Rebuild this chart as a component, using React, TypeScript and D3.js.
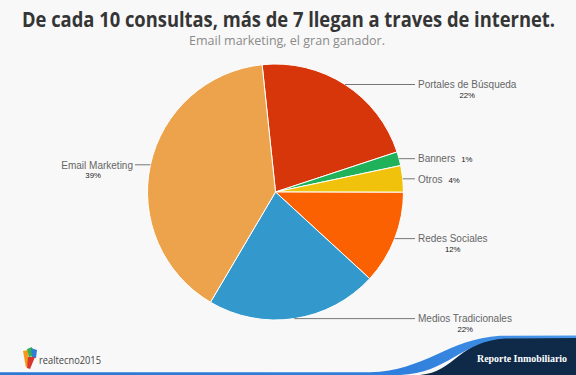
import React from "react";
import * as d3 from "d3";

const categories = ["Portales de Búsqueda", "Banners", "Otros", "Redes Sociales", "Medios Tradicionales", "Email Marketing"];
const values = [21.6, 1.75, 3.35, 11.8, 21.65, 39.85];
const pctLabels = ["22%", "1%", "4%", "12%", "22%", "39%"];
const colors = ["#d7360b", "#1fb25a", "#f0c20c", "#fb6100", "#3399cc", "#eda34b"];

const title = "De cada 10 consultas, más de 7 llegan a traves de internet.";
const subtitle = "Email marketing, el gran ganador.";
const logoText = "realtecno2015";
const brandText = "Reporte Inmobiliario";

const W = 576;
const H = 375;
const cx = 275.5;
const cy = 192;
const R = 128;
const startDeg = -6;

export default function App() {
  const start = (startDeg * Math.PI) / 180;
  const pie = d3
    .pie<number>()
    .sort(null)
    .value((d) => d)
    .startAngle(start)
    .endAngle(start + 2 * Math.PI);
  const arcs = pie(values);
  const arcGen = d3.arc<d3.PieArcDatum<number>>().innerRadius(0).outerRadius(R);

  const pts = arcs.map((a) => {
    const m = (a.startAngle + a.endAngle) / 2;
    return { x: cx + R * Math.sin(m), y: cy - R * Math.cos(m), right: Math.sin(m) > 0 };
  });

  const inline = pts.map((p, i) => {
    let minD = Infinity;
    pts.forEach((q, j) => {
      if (j !== i && q.right === p.right) minD = Math.min(minD, Math.abs(q.y - p.y));
    });
    return minD < 30;
  });

  const fontSans = "'Liberation Sans', Arial, sans-serif";

  return (
    <svg
      width={W}
      height={H}
      style={{ position: "absolute", left: 0, top: 0, display: "block" }}
    >
      <defs>
        <linearGradient id="bandGrad" x1="0" x2="1" y1="0" y2="0">
          <stop offset="0" stopColor="#2c78d2" />
          <stop offset="0.7" stopColor="#2f7fdc" />
          <stop offset="1" stopColor="#4a98ea" />
        </linearGradient>
      </defs>
      <rect x={0} y={0} width={W} height={H} fill="#f8f8f8" />

      <text
        x={288.5}
        y={27}
        textAnchor="middle"
        fontFamily="'Open Sans', sans-serif"
        fontWeight={700}
        fontSize={20.5}
        fill="#353535"
        textLength={533}
        lengthAdjust="spacingAndGlyphs"
      >
        {title}
      </text>
      <text
        x={287}
        y={44.5}
        textAnchor="middle"
        fontFamily="'Open Sans', sans-serif"
        fontSize={12.3}
        fill="#8a8a8a"
        textLength={196}
        lengthAdjust="spacingAndGlyphs"
      >
        {subtitle}
      </text>

      <g>
        {arcs.map((a, i) => (
          <path
            key={categories[i]}
            d={arcGen(a) || ""}
            transform={`translate(${cx},${cy})`}
            fill={colors[i]}
            stroke="#ffffff"
            strokeWidth={1}
          />
        ))}
      </g>

      <g>
        {pts.map((p, i) => {
          const xEnd = p.right ? 415 : 135;
          const tx = p.right ? 418 : 133;
          const anchor = p.right ? "start" : "end";
          const name = categories[i];
          return (
            <g key={name}>
              <line x1={p.x} y1={p.y} x2={xEnd} y2={p.y} stroke="#777" strokeWidth={1} />
              <text
                x={tx}
                y={p.y + 3.8}
                textAnchor={anchor}
                fontFamily={fontSans}
                fontSize={10}
                fill="#666"
              >
                {name}
              </text>
              {inline[i] ? (
                <text
                  x={tx + measure(name) + 6}
                  y={p.y + 3.8}
                  fontFamily={fontSans}
                  fontSize={7.8}
                  fill="#222"
                >
                  {pctLabels[i]}
                </text>
              ) : (
                <text
                  x={p.right ? tx + measure(name) / 2 : tx - measure(name) / 2 - 4}
                  y={p.y + 13.5}
                  textAnchor="middle"
                  fontFamily={fontSans}
                  fontSize={7.8}
                  fill="#222"
                >
                  {pctLabels[i]}
                </text>
              )}
            </g>
          );
        })}
      </g>

      {/* bottom decoration */}
      <path d="M420,375 C455,372 460,340 505,337.5 L576,337.5 L576,375 Z" fill="#0e2a48" />
      <path
        d="M0,372.3 L370,372.3 C425,371 448,339 500,335.8 L576,335.5 L576,338 L505,338.6 C462,341 448,373.5 400,375 L0,375 Z"
        fill="url(#bandGrad)"
      />
      <text
        x={522}
        y={361.5}
        textAnchor="middle"
        fontFamily="'Liberation Serif', 'DejaVu Serif', serif"
        fontWeight={700}
        fontSize={10}
        fill="#ffffff"
        textLength={90}
        lengthAdjust="spacingAndGlyphs"
      >
        {brandText}
      </text>

      {/* logo */}
      <g>
        <path d="M23,351 L28,350 L29,362 L26,368 Z" fill="#f39a1e" />
        <path d="M27,349 L32,347 L33,356 L29,357 Z" fill="#36b24a" />
        <path d="M31,348 L37,350 L36,358 L32,358 Z" fill="#2f7fd0" />
        <path d="M28,357 L35,357 L30,369 L27,368 Z" fill="#d9352a" />
      </g>
      <text
        x={39}
        y={364}
        fontFamily="'Open Sans', sans-serif"
        fontSize={10.5}
        fill="#444"
        textLength={62}
        lengthAdjust="spacingAndGlyphs"
      >
        {logoText}
      </text>
    </svg>
  );
}

// approximate Arial text width at 10px
function measure(s: string): number {
  const w: Record<string, number> = {
    P: 667, o: 556, r: 333, t: 278, a: 556, l: 222, e: 556, s: 500, " ": 278, d: 556,
    B: 667, "ú": 556, q: 556, u: 556, n: 556, O: 778, R: 722, S: 667, c: 500, i: 222,
    M: 833, T: 611, E: 667, m: 833, k: 500, g: 556,
  };
  let t = 0;
  for (const ch of s) t += w[ch] ?? 556;
  return (t / 1000) * 10;
}
